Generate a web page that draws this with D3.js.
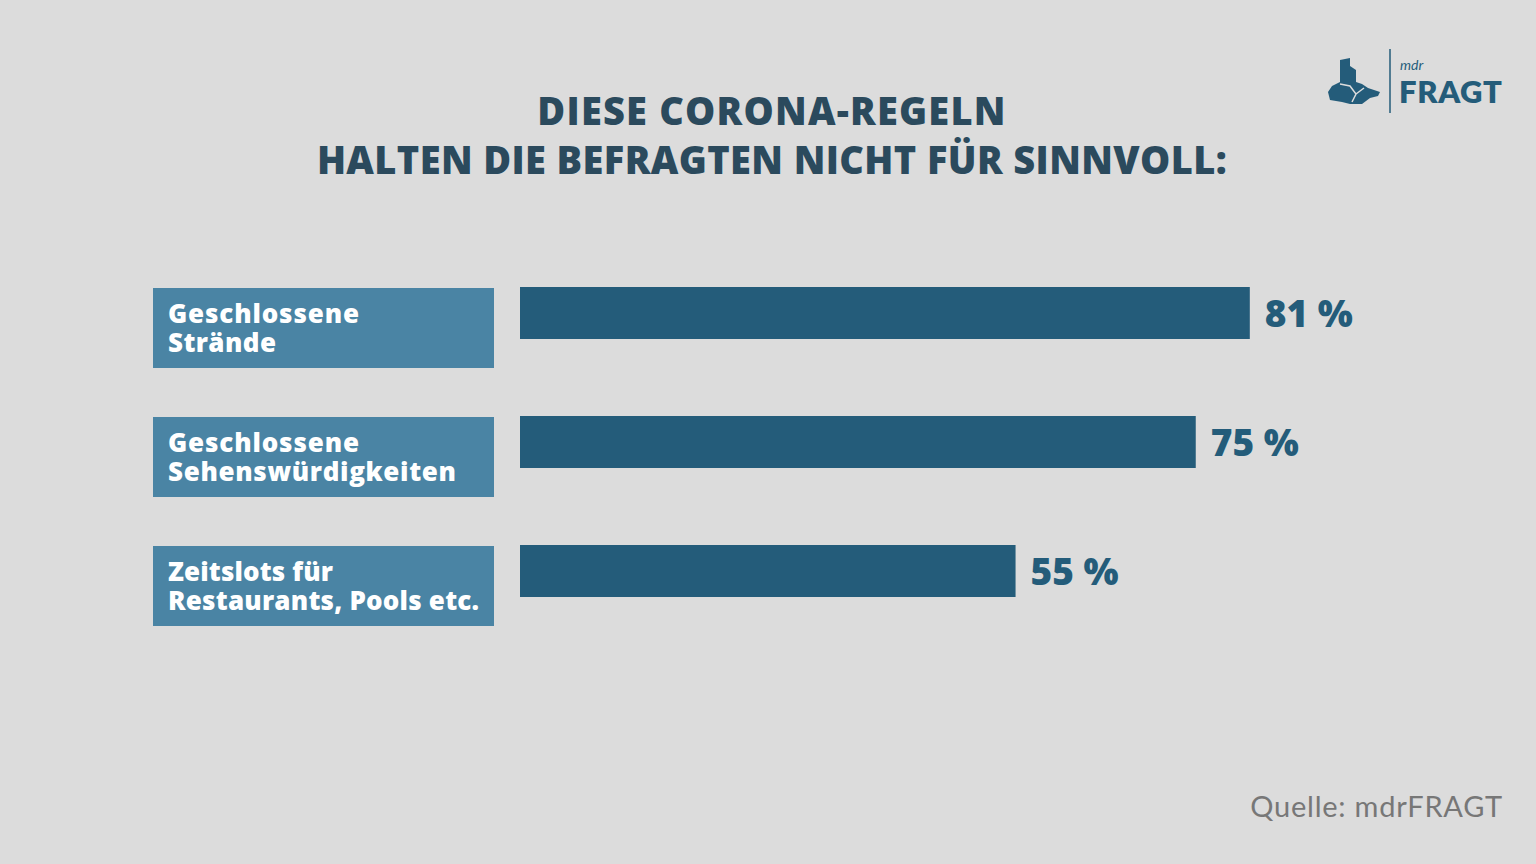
<!DOCTYPE html>
<html><head><meta charset="utf-8">
<script src="https://cdn.jsdelivr.net/npm/d3@7"></script>
<style>html,body{margin:0;padding:0;background:#dcdcdc;}svg{display:block;}</style>
</head><body>
<script>
const categories = [["Geschlossene","Strände"],["Geschlossene","Sehenswürdigkeiten"],["Zeitslots für","Restaurants, Pools etc."]];
const values = [81, 75, 55];
const valueLabels = ["81 %","75 %","55 %"];
const titleLines = ["DIESE CORONA-REGELN","HALTEN DIE BEFRAGTEN NICHT FÜR SINNVOLL:"];

const W = 1536, H = 864;
const svg = d3.select("body").append("svg").attr("width", W).attr("height", H);
svg.append("rect").attr("width", W).attr("height", H).attr("fill", "#dcdcdc");

const font = "'Open Sans', Lato, sans-serif";

function fit(sel, target) {
  const w = sel.node().getComputedTextLength();
  const n = sel.text().length;
  if (n > 1) sel.attr("letter-spacing", ((target - w) / (n - 1)).toFixed(2));
}

const titleTargets = [468, 910];
const title = svg.append("text").attr("text-anchor", "middle").attr("font-family", font)
  .attr("font-weight", 800).attr("font-size", 38).attr("fill", "#2b4a5d");
title.selectAll("tspan").data(titleLines).enter().append("tspan")
  .attr("x", 772).attr("y", (d,i) => 125 + i*49).text(d => d)
  .each(function(d, i){ fit(d3.select(this), titleTargets[i]); });

const x = d3.scaleLinear().domain([0, 100]).range([520, 1421]);
const step = 129;

const labelTargets = [[191, 108], [191, 288], [165, 311]];
const g = svg.append("g");
values.forEach((v, i) => {
  const top = 287 + i*step;
  g.append("rect").attr("x", 153).attr("y", top + 1).attr("width", 341).attr("height", 80).attr("fill", "#4a84a4");
  const t = g.append("text").attr("font-family", font).attr("font-weight", 800).attr("font-size", 26)
    .attr("fill", "#ffffff");
  categories[i].forEach((line, j) => {
    const ts = t.append("tspan").attr("x", 168).attr("y", top + 36 + j*29).text(line);
    fit(ts, labelTargets[i][j]);
  });
  g.append("rect").attr("x", x(0)).attr("y", top).attr("width", x(v) - x(0)).attr("height", 52).attr("fill", "#245c7a");
  const vt = g.append("text").attr("x", x(v) + 15).attr("y", top + 40)
    .attr("font-family", font).attr("font-weight", 800).attr("font-size", 37)
    .attr("fill", "#245c7a").text(valueLabels[i]);
  fit(vt, 88);
});

const src = svg.append("text").attr("x", 1503).attr("y", 817).attr("text-anchor", "end")
  .attr("font-family", "Lato, sans-serif").attr("font-size", 29).attr("fill", "#777777").text("Quelle: mdrFRAGT");
fit(src, 252);

// logo
const lg = svg.append("g");
lg.append("path").attr("fill", "#245c7a")
  .attr("d", "M1340,60 L1350,58 L1350,66 L1356,70 L1356,82 L1362,84 L1368,88 L1374,90 L1380,92 L1378,96 L1370,98 L1362,104 L1350,104 L1342,102 L1330,100 L1328,92 L1332,86 L1340,82 Z");
lg.append("path").attr("fill", "none").attr("stroke", "#dcdcdc").attr("stroke-width", 1.5)
  .attr("d", "M1340,84 L1350,86 L1356,94 L1352,102 M1356,94 L1364,88");
lg.append("line").attr("x1", 1390).attr("x2", 1390).attr("y1", 49).attr("y2", 113).attr("stroke", "#245c7a").attr("stroke-width", 1.5);
lg.append("text").attr("x", 1400).attr("y", 70).attr("font-family", "Lato, sans-serif").attr("font-size", 14).attr("font-style", "italic").attr("fill", "#245c7a").text("mdr");
const fr = lg.append("text").attr("x", 1399).attr("y", 103).attr("font-family", "Lato, sans-serif").attr("font-weight", 800).attr("font-size", 31).attr("fill", "#245c7a").text("FRAGT");
fit(fr, 103);
</script>
</body></html>
